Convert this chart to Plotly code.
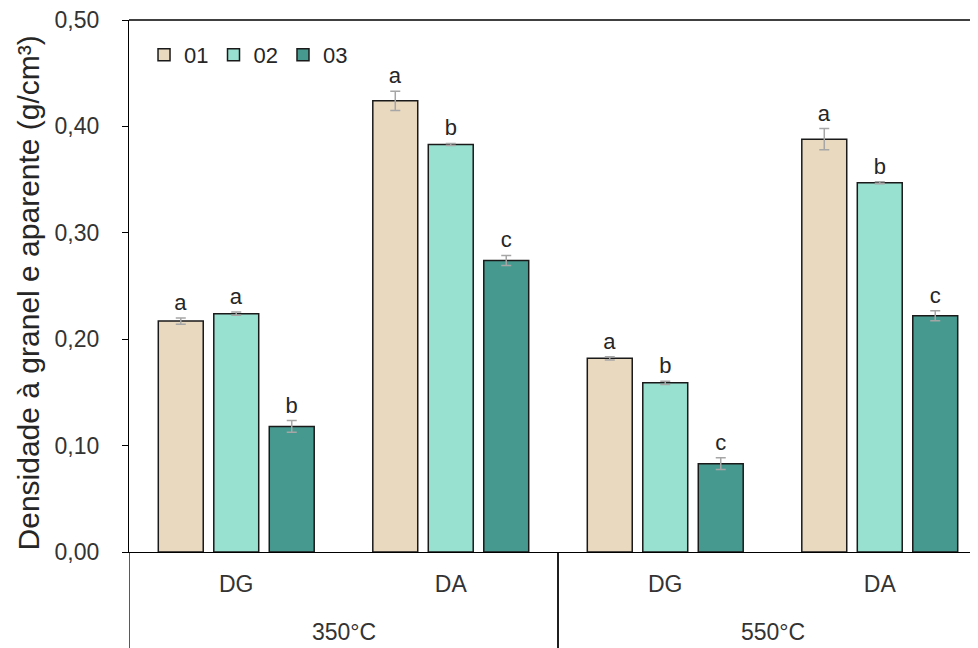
import plotly.graph_objects as go

# ---- data ----
temperatures = ["350°C", "350°C", "550°C", "550°C"]
densities = ["DG", "DA", "DG", "DA"]
series_names = ["01", "02", "03"]

vals_01 = [0.217, 0.424, 0.182, 0.388]
vals_02 = [0.224, 0.383, 0.159, 0.347]
vals_03 = [0.118, 0.274, 0.083, 0.222]

err_01 = [0.003, 0.009, 0.0015, 0.010]
err_02 = [0.0015, 0.001, 0.0015, 0.001]
err_03 = [0.0055, 0.0047, 0.0055, 0.0047]

letters_01 = ["a", "a", "a", "a"]
letters_02 = ["a", "b", "b", "b"]
letters_03 = ["b", "c", "c", "c"]

y_ticks = [0.0, 0.1, 0.2, 0.3, 0.4, 0.5]

colors = ["#E9D9BF", "#98E0CF", "#46998F"]
FONT = "Arial, Liberation Sans, sans-serif"

x_keys = [f"{t} {d}" for t, d in zip(temperatures, densities)]
values = [vals_01, vals_02, vals_03]
errors = [err_01, err_02, err_03]
letters = [letters_01, letters_02, letters_03]

fig = go.Figure()
for i, name in enumerate(series_names):
    fig.add_trace(go.Bar(
        x=x_keys, y=values[i], name=name, offsetgroup=f"g{i}",
        marker=dict(color=colors[i], line=dict(color="#1a1a1a", width=1.5)),
        error_y=dict(type="data", array=errors[i], visible=True,
                     color="#a6a6a6", thickness=1.5, width=5),
    ))
# significance letters, placed above the error bars
for i, name in enumerate(series_names):
    tops = [v + e for v, e in zip(values[i], errors[i])]
    fig.add_trace(go.Bar(
        x=x_keys, y=tops, offsetgroup=f"g{i}", showlegend=False,
        marker=dict(color="rgba(0,0,0,0)", line=dict(width=0)),
        text=letters[i], textposition="outside", cliponaxis=False,
        textfont=dict(family=FONT, size=22, color="#262626"),
        hoverinfo="skip",
    ))

# outer group labels (temperature) and dividers
groups = []
for idx, t in enumerate(temperatures):
    if not groups or groups[-1][0] != t:
        groups.append([t, idx, idx])
    else:
        groups[-1][2] = idx
for t, first, last in groups:
    fig.add_annotation(
        text=t, x=(first + last) / 2, y=-0.150, xref="x", yref="paper",
        showarrow=False, xanchor="center", yanchor="middle",
        font=dict(family=FONT, size=23, color="#333333"),
    )
    for bx in (first - 0.5, last + 0.5):
        fig.add_shape(type="line", xref="x", yref="paper",
                      x0=bx, x1=bx, y0=0, y1=-0.2,
                      line=dict(color="#000000", width=1.3))

# top border of the plot area
fig.add_shape(type="line", xref="paper", yref="paper", x0=0, x1=1, y0=1, y1=1,
              line=dict(color="#000000", width=1.3))

fig.update_layout(
    width=970, height=640,
    margin=dict(l=121, r=0, t=12, b=96),
    plot_bgcolor="white", paper_bgcolor="white",
    barmode="group", bargap=0.224, bargroupgap=0.19,
    separators=",.",
    font=dict(family=FONT, size=22, color="#333333"),
    showlegend=True,
    legend=dict(orientation="h", x=0.0177, y=0.974, xanchor="left", yanchor="top",
                font=dict(family=FONT, size=22, color="#262626"),
                bgcolor="rgba(0,0,0,0)", traceorder="normal"),
)
fig.update_xaxes(
    type="category", range=[-0.5, 3.458],
    tickvals=x_keys, ticktext=densities, ticklabelstandoff=11,
    showline=True, linecolor="#000000", linewidth=1.3,
    ticks="", showgrid=False, zeroline=False,
    tickfont=dict(family=FONT, size=23, color="#333333"),
)
fig.update_yaxes(
    range=[0, 0.5], tickvals=y_ticks, tickformat=".2f", ticklabelstandoff=18,
    ticklabeloverflow="allow",
    showline=True, linecolor="#000000", linewidth=1.3,
    ticks="outside", ticklen=6, tickcolor="#000000", tickwidth=1.3,
    showgrid=False, zeroline=False,
    tickfont=dict(family=FONT, size=23, color="#333333"),
)
fig.add_annotation(
    text="Densidade à granel e aparente (g/cm³)",
    xref="paper", yref="paper", x=0, y=0.486, xshift=-101,
    xanchor="center", yanchor="middle", textangle=-90, showarrow=False,
    font=dict(family=FONT, size=30, color="#262626"),
)

fig.write_html("out.html")
